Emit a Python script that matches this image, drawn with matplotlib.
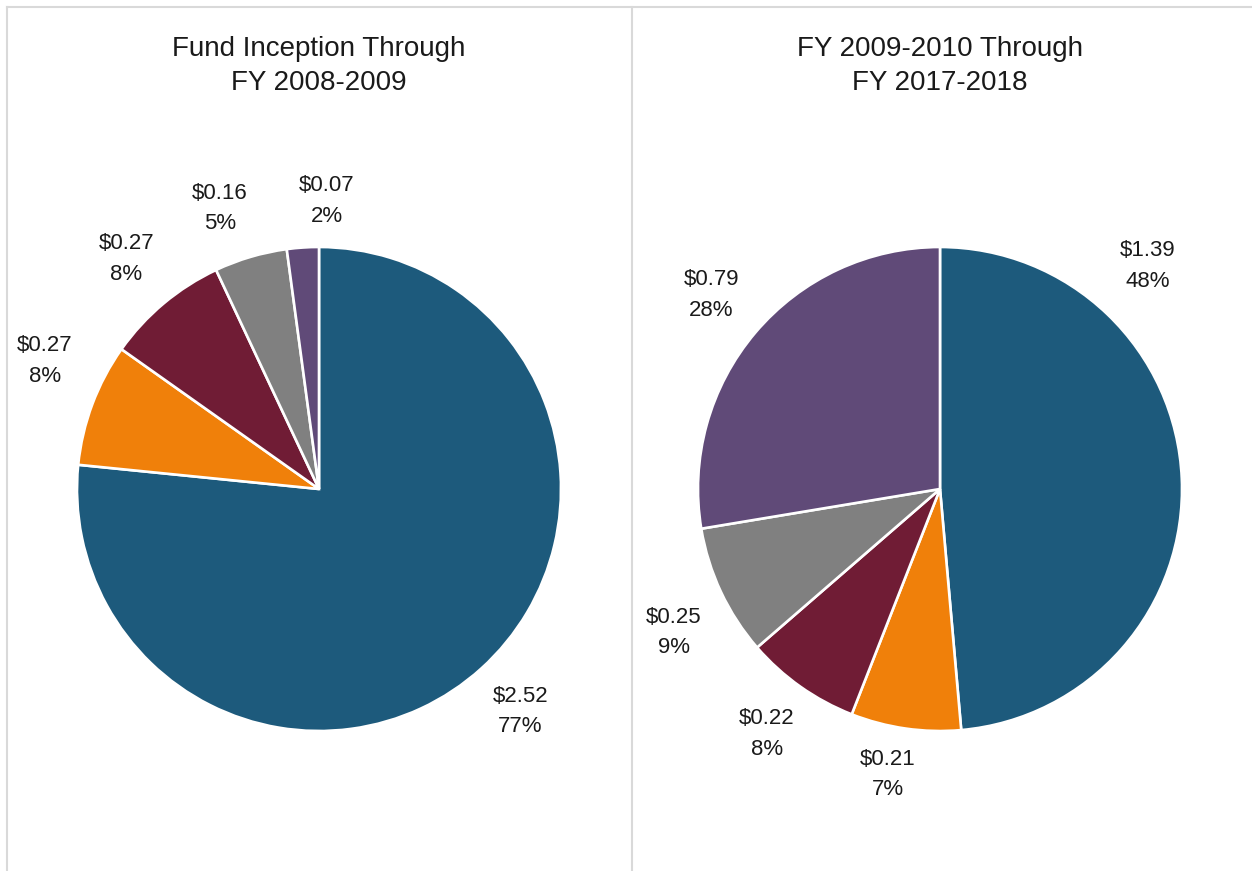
import numpy as np
import matplotlib
matplotlib.use("Agg")
import matplotlib.pyplot as plt
from matplotlib.lines import Line2D

plt.rcParams['font.family'] = ['Liberation Sans Narrow', 'Liberation Sans', 'DejaVu Sans']

# Funding by category, in billions of dollars
left_title = "Fund Inception Through\nFY 2008-2009"
left_values = [2.52, 0.27, 0.27, 0.16, 0.07]
left_pcts = [77, 8, 8, 5, 2]

right_title = "FY 2009-2010 Through\nFY 2017-2018"
right_values = [1.39, 0.21, 0.22, 0.25, 0.79]
right_pcts = [48, 7, 8, 9, 28]

colors = ["#1d5a7c", "#f0800a", "#701c35", "#808080", "#604a78"]

W, H = 1252, 871
fig = plt.figure(figsize=(W / 100, H / 100), dpi=100)

R_PX = 242
LIM = 1.3


def make_pie(cx, cy, title, values, pcts, moves):
    size = 2 * LIM * R_PX
    ax = fig.add_axes([(cx - size / 2) / W, (H - cy - size / 2) / H, size / W, size / H])
    labels = [f"${v:.2f}\n{p}%" for v, p in zip(values, pcts)]
    wedges, texts = ax.pie(values, labels=labels, colors=colors, startangle=90,
                           counterclock=False, labeldistance=1.24,
                           wedgeprops=dict(edgecolor="white", linewidth=1.9),
                           textprops=dict(fontsize=16, ha="center", va="center",
                                          multialignment="center", color="#1a1a1a",
                                          linespacing=1.6))
    # nudge labels that sit off their slice midpoint
    for i, (deg, dist) in moves.items():
        a = np.deg2rad(deg)
        texts[i].set_position((dist * np.cos(a), dist * np.sin(a)))
    ax.set_xlim(-LIM, LIM)
    ax.set_ylim(-LIM, LIM)
    ax.set_aspect("equal")
    ax.axis("off")
    fig.text(cx / W, 1 - 66 / H, title, ha="center", va="center", fontsize=20,
             linespacing=1.45, color="#1a1a1a")
    return ax


make_pie(319, 489, left_title, left_values, left_pcts,
         {1: (155, 1.25), 3: (109.5, 1.23), 4: (88.4, 1.19)})
make_pie(940, 489, right_title, right_values, right_pcts,
         {0: (47, 1.26), 1: (-100.4, 1.2), 3: (-151.7, 1.25)})

# panel borders
border = dict(color="#d9d9d9", linewidth=1.5, transform=fig.transFigure)
fig.add_artist(Line2D([7 / W, 1], [1 - 7 / H, 1 - 7 / H], **border))
fig.add_artist(Line2D([7 / W, 7 / W], [0, 1 - 7 / H], **border))
fig.add_artist(Line2D([632 / W, 632 / W], [0, 1 - 7 / H], **border))

fig.savefig("out.png", dpi=100, facecolor="white")
